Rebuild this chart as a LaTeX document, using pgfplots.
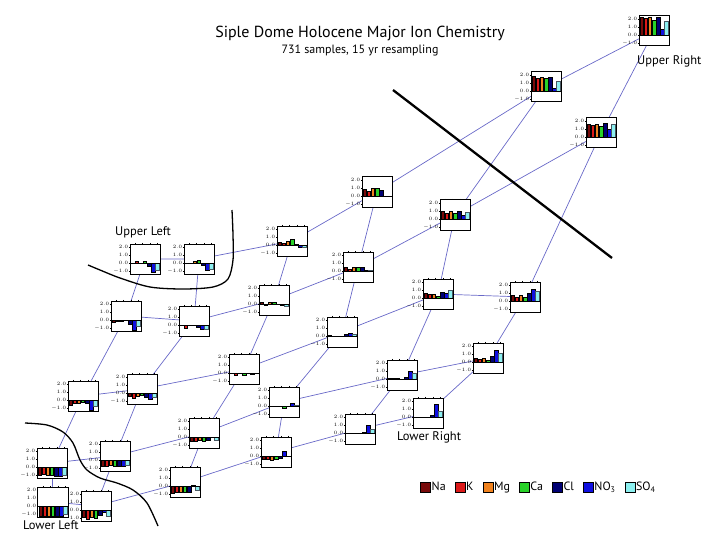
\documentclass[border=0pt]{standalone}
\usepackage{pgfplots}
\pgfplotsset{compat=1.18}
\usepackage{fontspec}
\setmainfont{PT Sans}
\definecolor{cNa}{RGB}{120,10,10}
\definecolor{cK}{RGB}{220,25,25}
\definecolor{cMg}{RGB}{240,130,30}
\definecolor{cCa}{RGB}{40,210,40}
\definecolor{cCl}{RGB}{0,0,115}
\definecolor{cNO}{RGB}{15,15,225}
\definecolor{cSO}{RGB}{140,240,240}
\definecolor{link}{RGB}{105,105,200}
\pgfplotsset{
  panel/.style={
    anchor=north west, width=30pt, height=30pt, scale only axis,
    xmin=0.3, xmax=7.7, ymin=-1.35, ymax=2.4,
    ytick={-1,0,1,2}, xtick={1.6,3.4,5.2,7.0}, xticklabels={},
    xtick pos=upper, ytick pos=left, tick align=outside,
    major tick length=1.2pt,
    tick style={line width=0.3pt, black},
    axis line style={line width=1.0pt},
    axis background/.style={fill=white},
    yticklabel style={font=\fontsize{3.2}{3.5}\selectfont, inner sep=0.6pt,
      /pgf/number format/.cd, fixed, fixed zerofill, precision=1},
    clip=false,
  },
  br/.style={ybar, bar width=0.8, bar shift=0pt, draw=black, line width=0.25pt},
  lk/.style={link, line width=0.7pt, forget plot},
  sq/.style={legend image code/.code={\draw[fill=#1, draw=black, line width=0.5pt] (0pt,-5pt) rectangle (10pt,5pt);}},
}
\newcommand{\panel}[9]{%
\begin{axis}[panel, at={(#1pt,-#2pt)}]
\addplot[br, fill=cNa] coordinates {(1,#3)};
\addplot[br, fill=cK] coordinates {(2,#4)};
\addplot[br, fill=cMg] coordinates {(3,#5)};
\addplot[br, fill=cCa] coordinates {(4,#6)};
\addplot[br, fill=cCl] coordinates {(5,#7)};
\addplot[br, fill=cNO] coordinates {(6,#8)};
\addplot[br, fill=cSO, draw=black!70!cyan] coordinates {(7,#9)};
\addplot[black, line width=0.45pt] coordinates {(0.3,0) (7.7,0)};
\end{axis}}
\begin{document}
\begin{tikzpicture}
\begin{axis}[name=bg, at={(0pt,0pt)}, anchor=north west,
  width=720pt, height=540pt, scale only axis,
  xmin=0, xmax=720, ymin=0, ymax=540, y dir=reverse,
  hide axis, clip=false,
  legend style={at={(axis cs:417,487)}, anchor=west, draw=none, fill=none,
    legend columns=-1, font=\fontsize{12}{14}\selectfont,
    /tikz/every even column/.append style={column sep=8pt},
    nodes={inner sep=1pt}},
  legend cell align=left]
% SOM grid links: rows
\addplot[lk] coordinates {(145,259) (199,259) (292,241) (377,192) (546,87) (654,31)};
\addplot[lk] coordinates {(126,316) (194,321) (274,300) (358,267) (455,215) (601,133)};
\addplot[lk] coordinates {(83,396) (142,389) (244,369) (342,332) (438,294) (525,297)};
\addplot[lk] coordinates {(52,463) (115,456) (204,433) (284,402) (402,375) (488,358)};
\addplot[lk] coordinates {(53,502) (96,506) (185,482) (276,452) (360,429) (428,413)};
% columns
\addplot[lk] coordinates {(145,259) (126,316) (83,396) (52,463) (53,502)};
\addplot[lk] coordinates {(199,259) (194,321) (142,389) (115,456) (96,506)};
\addplot[lk] coordinates {(292,241) (274,300) (244,369) (204,433) (185,482)};
\addplot[lk] coordinates {(377,192) (358,267) (342,332) (284,402) (276,452)};
\addplot[lk] coordinates {(546,87) (455,215) (438,294) (402,375) (360,429)};
\addplot[lk] coordinates {(654,31) (601,133) (525,297) (488,358) (428,413)};
% boundaries
\addplot[black, line width=2.3pt, forget plot] coordinates {(393,90) (612,258)};
\addplot[black, line width=1.3pt, smooth, forget plot] coordinates {(88,265) (100,270) (120,278) (150,287) (183,289) (213,287) (228,279) (233,260) (233,235) (232,210)};
\addplot[black, line width=1.3pt, smooth, forget plot] coordinates {(25,423) (47,425) (63,432) (73,443) (80,460) (87,470) (100,478) (117,483) (133,490) (147,503) (158,526)};
% legend
\addlegendimage{sq=cNa}
\addlegendentry{Na}
\addlegendimage{sq=cK}
\addlegendentry{K}
\addlegendimage{sq=cMg}
\addlegendentry{Mg}
\addlegendimage{sq=cCa}
\addlegendentry{Ca}
\addlegendimage{sq=cCl}
\addlegendentry{Cl}
\addlegendimage{sq=cNO}
\addlegendentry{NO\textsubscript{3}}
\addlegendimage{sq=cSO}
\addlegendentry{SO\textsubscript{4}}
% texts
\node[font=\fontsize{16}{18}\selectfont] at (axis cs:360,33) {Siple Dome Holocene Major Ion Chemistry};
\node[font=\fontsize{12}{14}\selectfont] at (axis cs:360,50) {731 samples, 15 yr resampling};
\node[font=\fontsize{12.5}{14}\selectfont, anchor=west, inner sep=0pt] at (axis cs:115,232) {Upper Left};
\node[font=\fontsize{12.5}{14}\selectfont, anchor=west, inner sep=0pt] at (axis cs:637,61) {Upper Right};
\node[font=\fontsize{12.5}{14}\selectfont, anchor=west, inner sep=0pt] at (axis cs:23,525) {Lower Left};
\node[font=\fontsize{12.5}{14}\selectfont, anchor=west, inner sep=0pt] at (axis cs:397,437) {Lower Right};
\end{axis}
% panels: X, Y (top-left of box, px), Na, K, Mg, Ca, Cl, NO3, SO4
\panel{130}{244}{-0.05}{0.25}{0.05}{0.3}{-0.4}{-1.1}{-0.9}
\panel{184}{244}{0.02}{0.05}{0.2}{0.4}{-0.3}{-0.9}{-0.75}
\panel{277}{226}{0.4}{0.25}{0.45}{0.75}{0.1}{-0.2}{-0.2}
\panel{362}{177}{0.9}{0.6}{1.0}{1.0}{0.7}{0.05}{0.05}
\panel{531}{72}{1.85}{1.6}{1.75}{1.6}{1.75}{0.35}{1.25}
\panel{639}{16}{2.2}{2.15}{2.2}{1.9}{2.3}{0.8}{1.7}
\panel{111}{301}{-0.25}{-0.1}{-0.15}{-0.05}{-0.55}{-1.2}{-0.8}
\panel{179}{306}{-0.05}{-0.4}{0.0}{0.02}{-0.2}{-0.5}{-0.45}
\panel{259}{285}{0.25}{-0.12}{0.25}{0.3}{0.0}{-0.15}{-0.25}
\panel{343}{252}{0.5}{0.3}{0.5}{0.45}{0.5}{0.1}{0.1}
\panel{440}{200}{1.0}{0.8}{1.0}{0.7}{1.0}{0.5}{0.9}
\panel{586}{118}{1.6}{1.5}{1.6}{1.35}{1.75}{1.05}{1.65}
\panel{68}{381}{-0.6}{-0.4}{-0.35}{-0.2}{-0.4}{-1.3}{-0.8}
\panel{127}{374}{-0.4}{-0.6}{-0.35}{-0.25}{-0.45}{-0.7}{-0.55}
\panel{229}{354}{-0.05}{-0.25}{0.0}{-0.2}{-0.05}{-0.08}{-0.05}
\panel{327}{317}{0.1}{0.05}{0.05}{0.02}{0.3}{0.4}{0.3}
\panel{423}{279}{0.65}{0.45}{0.55}{0.25}{0.8}{0.65}{1.05}
\panel{510}{282}{0.8}{0.55}{0.7}{0.5}{0.95}{1.45}{1.3}
\panel{37}{448}{-1.05}{-0.85}{-1.05}{-1.0}{-1.1}{-1.1}{-0.95}
\panel{100}{441}{-0.8}{-0.7}{-0.65}{-0.8}{-0.7}{-0.8}{-0.6}
\panel{189}{418}{-0.45}{-0.45}{-0.4}{-0.5}{-0.4}{0.0}{-0.35}
\panel{269}{387}{0.05}{-0.05}{-0.05}{-0.25}{0.05}{0.4}{0.1}
\panel{387}{360}{0.15}{0.1}{0.1}{0.05}{0.3}{1.0}{0.7}
\panel{473}{343}{0.5}{0.35}{0.5}{0.3}{0.7}{1.5}{1.1}
\panel{38}{487}{-1.3}{-1.25}{-1.3}{-1.2}{-1.3}{-1.3}{-1.05}
\panel{81}{491}{-0.9}{-1.1}{-0.9}{-1.0}{-0.6}{-0.3}{-0.8}
\panel{170}{467}{-0.85}{-0.8}{-0.8}{-0.8}{-0.75}{0.1}{-0.5}
\panel{261}{437}{-0.4}{-0.4}{-0.5}{-0.4}{-0.2}{0.65}{0.05}
\panel{345}{414}{-0.05}{-0.05}{-0.05}{0.0}{0.1}{1.0}{0.45}
\panel{413}{398}{0.05}{0.03}{0.03}{0.03}{0.2}{1.6}{0.7}
\pgfresetboundingbox
\path[use as bounding box] (bg.north west) rectangle (bg.south east);
\end{tikzpicture}
\end{document}
